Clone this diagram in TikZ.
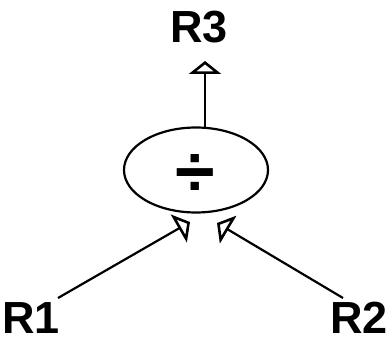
\documentclass[tikz,border=0pt]{standalone}
\usepackage{fontspec}
\setmainfont{Liberation Sans}
\usepackage{tikz}
\usetikzlibrary{arrows.meta,shapes,positioning}
\tikzstyle{arrow} = [line width=2.2pt,-{Triangle[open,width=32pt,length=13pt,line width=2.6pt]},color=black]
\tikzstyle{reg} = [inner sep=0pt, font=\fontsize{45}{54}\selectfont\bfseries]
\tikzstyle{operator} = [ellipse, draw=black, line width=2.2pt, minimum width=144pt, minimum height=85pt, inner sep=0pt]

\begin{document}
\begin{tikzpicture}[x=1pt, y=-1pt]
    \useasboundingbox (0,0) rectangle (391,342);

    % Operator node
    \node[operator] (div) at (196, 170) {};
    \node[inner sep=0pt, font=\fontsize{72}{74}\selectfont\bfseries] (sym) at (195, 176) {÷};

    % Registers
    \node[reg] (r3) at (199, 27) {R3};
    \node[reg] (r1) at (31, 318) {R1};
    \node[reg] (r2) at (359, 318) {R2};

    % Arrow ends
    \coordinate (outtop) at (205, 127);
    \coordinate (outtip) at (205, 61);
    \coordinate (r1start) at (58, 298);
    \coordinate (r1tip) at (190, 222);
    \coordinate (r2start) at (343, 298);
    \coordinate (r2tip) at (217, 223);

    % Connections
    \draw[arrow] (outtop) -- (outtip);
    \draw[arrow] (r1start) -- (r1tip);
    \draw[arrow] (r2start) -- (r2tip);
\end{tikzpicture}
\end{document}
